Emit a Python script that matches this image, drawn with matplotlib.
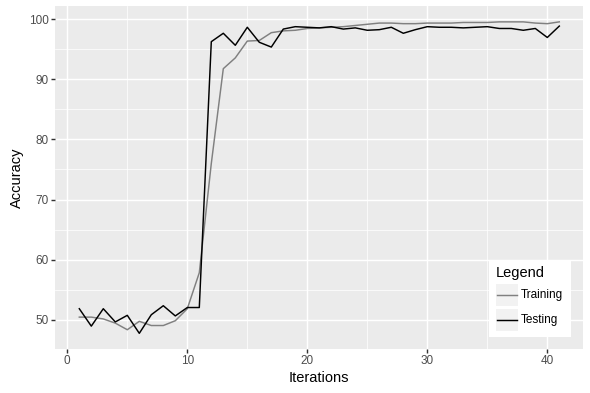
import matplotlib
matplotlib.use("Agg")
import matplotlib.pyplot as plt
from matplotlib.patches import Rectangle
from matplotlib.lines import Line2D
import numpy as np

# data
iterations = np.arange(1, 42)
training = [50.4, 50.4, 50.1, 49.4, 48.3, 49.7, 49.0, 49.0, 49.8, 51.8, 57.8,
            76.0, 91.8, 93.6, 96.4, 96.5, 97.8, 98.1, 98.2, 98.5, 98.6, 98.7, 98.8, 99.0, 99.2,
            99.4, 99.4, 99.3, 99.3, 99.4, 99.4, 99.4, 99.5, 99.5, 99.5, 99.6, 99.6, 99.6, 99.4, 99.3, 99.6]
testing = [51.8, 48.9, 51.8, 49.6, 50.7, 47.7, 50.8, 52.3, 50.6, 52.0, 52.0,
           96.3, 97.7, 95.7, 98.7, 96.2, 95.4, 98.4, 98.8, 98.7, 98.6, 98.8, 98.4, 98.6, 98.2,
           98.3, 98.7, 97.7, 98.3, 98.8, 98.7, 98.7, 98.6, 98.7, 98.8, 98.5, 98.5, 98.2, 98.5, 97.0, 98.9]
series_names = ["Training", "Testing"]
series_colors = ["#808080", "black"]

plt.rcParams['font.family'] = ['Liberation Sans', 'DejaVu Sans']

W, H = 590, 393
DPI = 96
fig = plt.figure(figsize=(W / DPI, H / DPI), dpi=DPI)
ax = fig.add_axes([55.3 / W, 1 - 348.9 / H, 528 / W, 342.6 / H])
ax.set_facecolor("#EBEBEB")

# ggplot-like expansion of the limits
lo = min(min(training), min(testing))
hi = max(max(training), max(testing))
pad = (hi - lo) * 0.05
ax.set_ylim(lo - pad, hi + pad)
xpad = (iterations[-1] - iterations[0]) * 0.05
ax.set_xlim(iterations[0] - xpad, iterations[-1] + xpad)

ax.set_xticks([0, 10, 20, 30, 40])
ax.set_xticks([5, 15, 25, 35], minor=True)
ax.set_yticks([50, 60, 70, 80, 90, 100])
ax.set_yticks([55, 65, 75, 85, 95], minor=True)
ax.grid(which="major", color="white", linewidth=1.07)
ax.grid(which="minor", color="white", linewidth=0.53)
ax.set_axisbelow(True)
for s in ax.spines.values():
    s.set_visible(False)
ax.tick_params(which="major", length=2.75, width=1.07, color="#333333",
               labelsize=8.8, labelcolor="#4D4D4D", pad=2.2)
ax.tick_params(which="minor", length=0)

for vals, name, col in zip([training, testing], series_names, series_colors):
    ax.plot(iterations, vals, color=col, linewidth=1.1, label=name)

ax.set_xlabel("Iterations", fontsize=11, labelpad=2.5)
ax.set_ylabel("Accuracy", fontsize=11, labelpad=4)

# legend drawn ggplot style (white box, grey95 keys)
def fx(px):
    return px / W

def fy(py):
    return 1 - py / H

fig.patches.append(Rectangle((fx(489), fy(337)), fx(571) - fx(489), fy(261) - fy(337),
                             transform=fig.transFigure, facecolor="white", edgecolor="none"))
fig.text(fx(495.5), fy(273), "Legend", fontsize=11, va="center", ha="left")
for i, (name, col) in enumerate(zip(series_names, series_colors)):
    top = 284 + i * 24.5
    fig.patches.append(Rectangle((fx(496), fy(top + 22)), fx(518) - fx(496), fy(top) - fy(top + 22),
                                 transform=fig.transFigure, facecolor="#F2F2F2", edgecolor="none"))
    yc = top + 11
    fig.lines.append(Line2D([fx(497), fx(517)], [fy(yc), fy(yc)], transform=fig.transFigure,
                            color=col, linewidth=1.1))
    fig.text(fx(521), fy(yc), name, fontsize=8.8, va="center", ha="left")

fig.savefig("out.png", dpi=DPI)
